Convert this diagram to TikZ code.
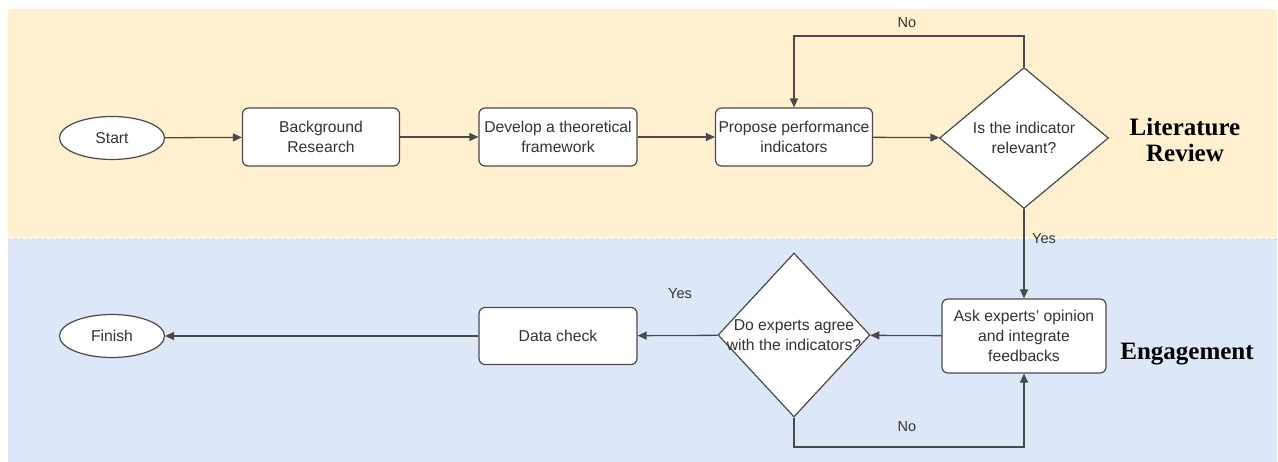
\documentclass[tikz,border=0pt]{standalone}
\usepackage{fontspec}
\setmainfont{Liberation Sans}
\newfontfamily\titlefont{Liberation Serif}
\usetikzlibrary{shapes.geometric,arrows.meta}
\definecolor{bandY}{HTML}{FFF0CF}
\definecolor{bandB}{HTML}{DCE7F8}
\definecolor{lineC}{HTML}{4A4A4A}
\definecolor{txtC}{HTML}{333333}
\tikzset{
  x=1pt,y=-1pt,
  every node/.style={font=\fontsize{15.7}{20}\selectfont, text=txtC},
  procbox/.style={draw=lineC, line width=1.2pt, fill=white, rounded corners=6pt, align=center, inner sep=0pt},
  termnode/.style={draw=lineC, line width=1.2pt, fill=white, ellipse, inner sep=0pt, minimum width=105pt, minimum height=43pt},
  decision/.style={draw=lineC, line width=1.2pt, fill=white, diamond, inner sep=0pt, align=center},
  flow/.style={draw=lineC, line width=1.3pt, -{Triangle[length=9pt,width=8pt]}},
  lbl/.style={font=\fontsize{14.5}{17}\selectfont},
  lanetitle/.style={font=\titlefont\bfseries\fontsize{25}{26}\selectfont, text=black, align=center}
}
\begin{document}
\begin{tikzpicture}
\useasboundingbox (0,0) rectangle (1278,462);
\fill[white] (0,0) rectangle (1278,462);
\fill[bandY] (8,9) rectangle (1277,237);
\fill[bandB] (8,239) rectangle (1277,462);
\draw[black!15, dashed, line width=0.8pt] (8,238) -- (1277,238);

\node[termnode] (start) at (112,138) {Start};
\node[procbox, minimum width=157pt, minimum height=58pt] (bg) at (321,137) {Background\\Research};
\node[procbox, minimum width=158pt, minimum height=58pt] (dev) at (558,137) {Develop a theoretical\\framework};
\node[procbox, minimum width=157pt, minimum height=58pt] (prop) at (794,137) {Propose performance\\indicators};
\node[decision, minimum width=169pt, minimum height=141pt, aspect=1.2] (rel) at (1024,138) {Is the indicator\\relevant?};
\node[lanetitle] (lit) at (1185,140) {Literature\\Review};

\node[procbox, minimum width=164pt, minimum height=74pt] (ask) at (1024,336) {Ask experts' opinion\\and integrate\\feedbacks};
\node[decision, minimum width=152pt, minimum height=164pt, aspect=0.93, inner sep=-12pt] (agree) at (794,335) {Do experts agree\\with the indicators?};
\node[procbox, minimum width=158pt, minimum height=57pt] (check) at (558,336) {Data check};
\node[termnode] (finish) at (112,336) {Finish};
\node[lanetitle] (eng) at (1187,354) {Engagement};

\coordinate (noA) at (1024,36);
\coordinate (noB) at (794,36);
\coordinate (noC) at (794,447);
\coordinate (noD) at (1024,447);

\draw[flow] (start) -- (bg);
\draw[flow] (bg) -- (dev);
\draw[flow] (dev) -- (prop);
\draw[flow] (prop) -- (rel);
\draw[flow] (rel.north) -- (noA) -- (noB) -- (prop.north);
\draw[flow] (rel.south) -- (ask.north);
\draw[flow] (ask) -- (agree);
\draw[flow] (agree) -- (check);
\draw[flow] (check) -- (finish);
\draw[flow] (agree.south) -- (noC) -- (noD) -- (ask.south);

\node[lbl] (no1) at (907,23) {No};
\node[lbl] (yes1) at (1044,239) {Yes};
\node[lbl] (yes2) at (680,294) {Yes};
\node[lbl] (no2) at (907,427) {No};
\end{tikzpicture}
\end{document}
